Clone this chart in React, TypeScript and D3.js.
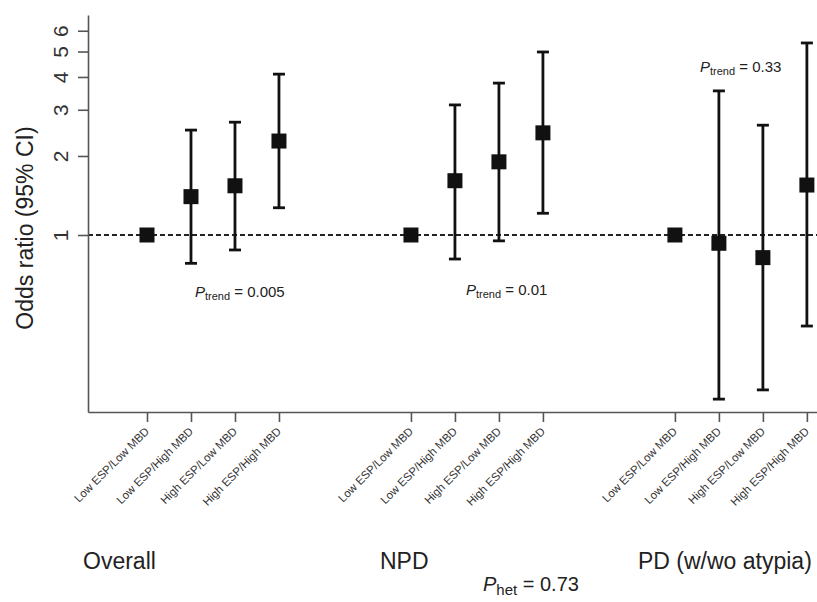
import React, { useEffect, useRef } from 'react';
import * as d3 from 'd3';

// x categories inside each group
const categories = ['Low ESP/Low MBD', 'Low ESP/High MBD', 'High ESP/Low MBD', 'High ESP/High MBD'];
const groups = ['Overall', 'NPD', 'PD (w/wo atypia)'];
const groupStart = [1, 7, 13];

// odds ratios (reference category has no CI)
const overallOR = [1, 1.4, 1.54, 2.28];
const overallLo = [null, 0.78, 0.877, 1.27];
const overallHi = [null, 2.51, 2.69, 4.1];

const npdOR = [1, 1.61, 1.9, 2.45];
const npdLo = [null, 0.81, 0.95, 1.21];
const npdHi = [null, 3.13, 3.79, 4.98];

const pdOR = [1, 0.93, 0.82, 1.55];
const pdLo = [null, 0.237, 0.257, 0.45];
const pdHi = [null, 3.54, 2.62, 5.39];

const yTicks = [1, 2, 3, 4, 5, 6];
const pTrend = ['0.005', '0.01', '0.33'];
// where each P-trend note sits, in data units (x position, odds ratio)
const pTrendX = [2.09, 8.25, 13.57];
const pTrendY = [0.58, 0.59, 4.18];
const pHet = '0.73';

const font = '"Liberation Sans", Arial, Helvetica, sans-serif';

export default function App() {
  const ref = useRef<SVGSVGElement | null>(null);

  useEffect(() => {
    const svg = d3.select(ref.current);
    svg.selectAll('*').remove();

    const x = d3.scaleLinear().domain([-0.341, 16.23]).range([88, 817]);
    const y = d3.scaleLog().domain([0.2117, 6.888]).range([412, 15]);

    const rows = [
      { or: overallOR, lo: overallLo, hi: overallHi },
      { or: npdOR, lo: npdLo, hi: npdHi },
      { or: pdOR, lo: pdLo, hi: pdHi },
    ];
    const points = rows.flatMap((r, g) =>
      r.or.map((v, i) => ({ pos: groupStart[g] + i, or: v, lo: r.lo[i], hi: r.hi[i], cat: categories[i] }))
    );

    // reference line at 1
    svg
      .append('line')
      .attr('x1', x.range()[0])
      .attr('x2', x.range()[1])
      .attr('y1', y(1))
      .attr('y2', y(1))
      .attr('stroke', '#222')
      .attr('stroke-width', 2)
      .attr('stroke-dasharray', '5,3');

    // y axis
    const yAxis = svg
      .append('g')
      .attr('transform', `translate(${x.range()[0]},0)`)
      .call(d3.axisLeft(y).tickValues(yTicks).tickFormat(d3.format('d')).tickSize(10).tickSizeOuter(0));
    yAxis.select('.domain').attr('stroke', '#555').attr('stroke-width', 1.6);
    yAxis.selectAll('.tick line').attr('stroke', '#555').attr('stroke-width', 1.6);
    yAxis
      .selectAll('.tick text')
      .attr('x', null)
      .attr('dy', null)
      .attr('transform', 'translate(-20,0) rotate(-90)')
      .attr('text-anchor', 'middle')
      .style('font-family', font)
      .style('font-size', '21px')
      .attr('fill', '#333');

    // x axis
    const xAxis = svg
      .append('g')
      .attr('transform', `translate(0,${y.range()[0]})`)
      .call(
        d3
          .axisBottom(x)
          .tickValues(points.map((d) => d.pos))
          .tickFormat(() => '')
          .tickSize(10)
          .tickSizeOuter(0)
      );
    xAxis.select('.domain').attr('stroke', '#555').attr('stroke-width', 1.6);
    xAxis.selectAll('.tick line').attr('stroke', '#555').attr('stroke-width', 1.6);

    svg
      .append('g')
      .selectAll('text')
      .data(points)
      .enter()
      .append('text')
      .attr('transform', (d) => `translate(${x(d.pos) + 3},${y.range()[0] + 20}) rotate(-45)`)
      .attr('text-anchor', 'end')
      .style('font-family', font)
      .style('font-size', '11.5px')
      .attr('fill', '#333')
      .text((d) => d.cat);

    // error bars
    const ci = points.filter((d) => d.lo != null);
    const bars = svg.append('g').attr('stroke', '#111').attr('stroke-width', 2.8);
    bars
      .selectAll('.v')
      .data(ci)
      .enter()
      .append('line')
      .attr('x1', (d) => x(d.pos))
      .attr('x2', (d) => x(d.pos))
      .attr('y1', (d) => y(d.lo as number))
      .attr('y2', (d) => y(d.hi as number));
    ['lo', 'hi'].forEach((k) => {
      bars
        .selectAll('.c' + k)
        .data(ci)
        .enter()
        .append('line')
        .attr('x1', (d) => x(d.pos) - 6)
        .attr('x2', (d) => x(d.pos) + 6)
        .attr('y1', (d: any) => y(d[k]))
        .attr('y2', (d: any) => y(d[k]));
    });

    // squares
    svg
      .append('g')
      .selectAll('rect')
      .data(points)
      .enter()
      .append('rect')
      .attr('x', (d) => x(d.pos) - 7.5)
      .attr('y', (d) => y(d.or) - 7.5)
      .attr('width', 15)
      .attr('height', 15)
      .attr('fill', '#111');

    // P trend notes
    pTrend.forEach((p, i) => {
      const t = svg
        .append('text')
        .attr('x', x(pTrendX[i]))
        .attr('y', y(pTrendY[i]))
        .style('font-family', font)
        .style('font-size', '15px')
        .attr('fill', '#222');
      t.append('tspan').style('font-style', 'italic').text('P');
      t.append('tspan').style('font-size', '11px').attr('dy', 3).text('trend');
      t.append('tspan').attr('dy', -3).text(' = ' + p);
    });

    // group labels
    const groupX = [83, 380, 638];
    svg
      .append('g')
      .selectAll('text')
      .data(groups)
      .enter()
      .append('text')
      .attr('x', (d, i) => groupX[i])
      .attr('y', 569)
      .style('font-family', font)
      .style('font-size', '23px')
      .attr('fill', '#222')
      .text((d) => d);

    const het = svg
      .append('text')
      .attr('x', 483)
      .attr('y', 591)
      .style('font-family', font)
      .style('font-size', '20px')
      .attr('fill', '#222');
    het.append('tspan').style('font-style', 'italic').text('P');
    het.append('tspan').style('font-size', '15px').attr('dy', 4).text('het');
    het.append('tspan').attr('dy', -4).text(' = ' + pHet);

    // y axis title
    svg
      .append('text')
      .attr('transform', 'translate(33,228) rotate(-90)')
      .attr('text-anchor', 'middle')
      .style('font-family', font)
      .style('font-size', '23px')
      .attr('fill', '#222')
      .text('Odds ratio (95% CI)');
  }, []);

  return (
    <svg
      ref={ref}
      width={817}
      height={602}
      style={{ position: 'absolute', left: 0, top: 0, display: 'block', background: '#fff' }}
    />
  );
}
